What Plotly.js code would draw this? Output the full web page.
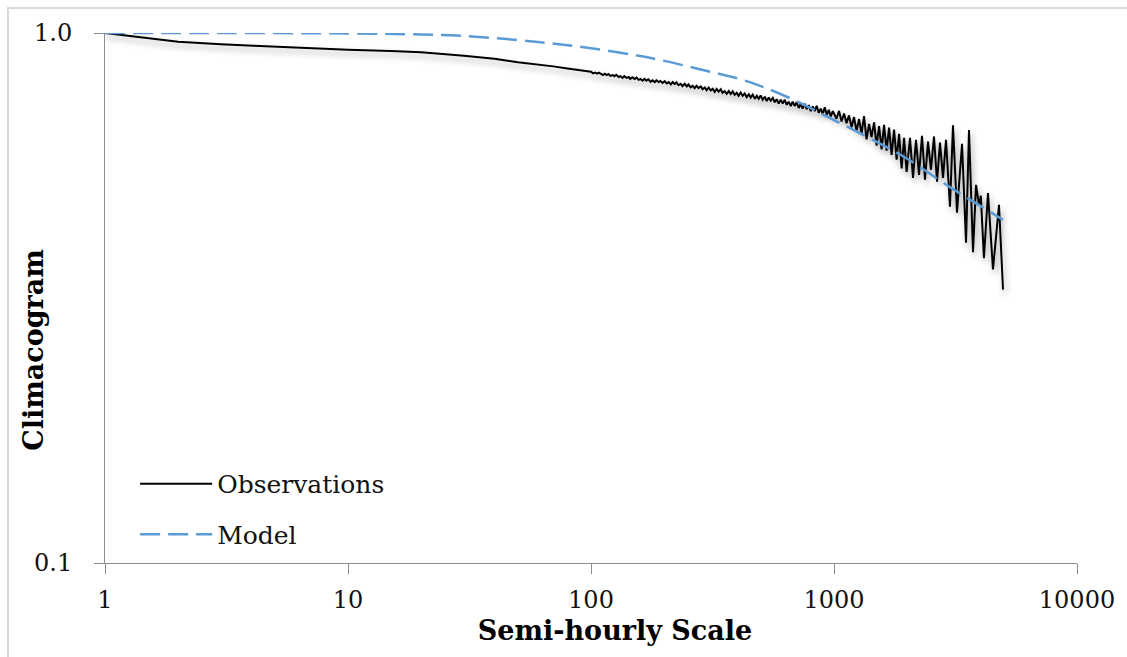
<!DOCTYPE html>
<html>
<head>
<meta charset="utf-8">
<script src="https://cdn.plot.ly/plotly-3.0.1.min.js"></script>
<style>
  html, body { margin: 0; padding: 0; background: #ffffff; overflow: hidden; }
  #frame { position: absolute; left: 7px; top: 7px; width: 1300px; height: 800px;
           border: 2px solid #d9d9d9; box-sizing: border-box; }
  #chart { position: absolute; left: 0; top: 0; width: 1127px; height: 657px; }
  .scatterlayer .trace:first-child path.js-line { filter: drop-shadow(2px 4px 3px rgba(0,0,0,0.35)); }
  .xtitle { translate: 24px 0px; }
  .ytitle { translate: 32px 52px; }
</style>
</head>
<body>
<div id="frame"></div>
<div id="chart"></div>
<script>
// Observations (empirical climacogram)
const obsScale = [1, 1.5, 2, 3, 4, 5, 7, 10, 15, 20, 30, 40, 50, 60, 70, 80, 90,
  100, 102, 104, 106, 108, 110, 112, 114, 116, 118, 120, 123, 125, 127, 130, 132, 135, 137, 140,
  143, 145, 148, 151, 154, 157, 160, 163, 166, 169, 172, 176, 179, 183, 186, 190, 193, 197,
  201, 205, 209, 213, 217, 221, 225, 229, 234, 238, 243, 248, 252, 257, 262, 267, 272, 277,
  283, 288, 294, 299, 305, 311, 317, 323, 329, 335, 342, 348, 355, 362, 369, 376, 383, 390, 398,
  405, 413, 421, 429, 437, 446, 454, 463, 472, 481, 490, 499, 509, 519, 529, 539, 549, 560, 570,
  581, 592, 604, 615, 627, 639, 651, 664, 676, 689, 702, 716, 729, 743, 758, 772, 787, 802, 818,
  833, 849, 865, 882, 899, 916, 934, 952, 970, 989,
  1024, 1049, 1074, 1100, 1126, 1153, 1181, 1209, 1238, 1268, 1298, 1329, 1361, 1394,
  1427, 1462, 1497, 1533, 1570, 1607, 1646, 1685, 1726, 1767, 1810, 1853, 1898, 1943, 1990,
  2055, 2114, 2175, 2238, 2302, 2369, 2437, 2507, 2579, 2654, 2730, 2809, 2890,
  3001, 3088, 3208, 3364, 3494, 3594, 3733, 3841, 3952, 4020, 4140, 4302, 4511, 4642, 4775, 4961];
const obsValue = [1.000, 0.979, 0.963, 0.952, 0.946, 0.942, 0.936, 0.930, 0.925, 0.920, 0.906, 0.894, 0.881, 0.873, 0.865, 0.857, 0.850,
  0.845, 0.839, 0.842, 0.838, 0.842, 0.837, 0.833, 0.838, 0.833, 0.837, 0.830, 0.833, 0.829, 0.834, 0.826, 0.829, 0.823, 0.829, 0.823,
  0.826, 0.819, 0.825, 0.819, 0.824, 0.816, 0.819, 0.813, 0.819, 0.813, 0.818, 0.809, 0.814, 0.808, 0.814, 0.808, 0.812, 0.805,
  0.811, 0.803, 0.808, 0.800, 0.808, 0.801, 0.807, 0.797, 0.802, 0.794, 0.802, 0.793, 0.800, 0.790, 0.795, 0.787, 0.795, 0.787,
  0.793, 0.783, 0.789, 0.780, 0.789, 0.779, 0.785, 0.774, 0.784, 0.775, 0.783, 0.771, 0.777, 0.768, 0.777, 0.767, 0.776, 0.764, 0.771,
  0.761, 0.772, 0.761, 0.769, 0.757, 0.766, 0.755, 0.765, 0.751, 0.761, 0.751, 0.762, 0.748, 0.758, 0.744, 0.756, 0.745, 0.754, 0.740,
  0.750, 0.736, 0.748, 0.736, 0.748, 0.732, 0.742, 0.728, 0.742, 0.728, 0.740, 0.722, 0.735, 0.720, 0.735, 0.718, 0.731, 0.712, 0.727,
  0.712, 0.729, 0.707, 0.720, 0.703, 0.724, 0.701, 0.716, 0.696, 0.712,
  0.689, 0.713, 0.681, 0.705, 0.676, 0.699, 0.664, 0.694, 0.653, 0.688, 0.646, 0.697, 0.630, 0.674,
  0.636, 0.678, 0.613, 0.667, 0.603, 0.671, 0.600, 0.663, 0.589, 0.657, 0.577, 0.645, 0.555, 0.634, 0.547,
  0.634, 0.533, 0.629, 0.540, 0.640, 0.529, 0.624, 0.552, 0.638, 0.524, 0.621, 0.533, 0.629,
  0.470, 0.670, 0.458, 0.618, 0.402, 0.656, 0.386, 0.517, 0.474, 0.493, 0.376, 0.499, 0.358, 0.412, 0.474, 0.328];

// Model (theoretical climacogram)
const modelScale = [1, 3, 10, 20, 30, 50, 70, 100, 150, 200, 300, 400, 500, 700, 1000, 1500, 2000, 3000, 4000, 4961];
const modelValue = [1.000, 1.000, 0.998, 0.9935, 0.987, 0.970, 0.955, 0.936, 0.909, 0.886, 0.848, 0.821, 0.794, 0.744, 0.685, 0.623, 0.579, 0.512, 0.472, 0.444];

// Axis ticks
const xTickVals = [1, 10, 100, 1000, 10000];
const xTickText = ['1', '10', '100', '1000', '10000'];
const yTickVals = [0.1, 1];
const yTickText = ['0.1', '1.0'];

const serif = 'DejaVu Serif';

const traces = [
  {
    x: obsScale, y: obsValue, name: 'Observations', type: 'scatter', mode: 'lines',
    legendgroup: 'obs', line: {color: '#000000', width: 2}
  },
  {
    x: modelScale, y: modelValue, name: 'Model', type: 'scatter', mode: 'lines',
    legendgroup: 'model', line: {color: '#5B9BD5', width: 2.5, dash: '20px,8px', shape: 'spline', smoothing: 1}
  }
];

const layout = {
  width: 1127, height: 657,
  margin: {l: 105, r: 50, t: 33, b: 94},
  paper_bgcolor: 'rgba(0,0,0,0)',
  plot_bgcolor: 'rgba(0,0,0,0)',
  font: {family: serif, color: '#111111', size: 24},
  showlegend: true,
  legend: {
    x: 0.031, y: 0.1925, xanchor: 'left', yanchor: 'top',
    bgcolor: 'rgba(0,0,0,0)',
    font: {family: serif, size: 25, color: '#111111'},
    itemwidth: 72,
    traceorder: 'grouped',
    tracegroupgap: 15
  },
  xaxis: {
    type: 'log', range: [0, 4],
    tickvals: xTickVals, ticktext: xTickText,
    showgrid: false, zeroline: false,
    showline: true, linecolor: '#8c8c8c', linewidth: 1,
    ticks: 'outside', ticklen: 10, tickcolor: '#8c8c8c', tickwidth: 1,
    tickfont: {family: serif, size: 24, color: '#111111'},
    ticklabelstandoff: 5,
    title: {text: 'Semi-hourly Scale', font: {family: serif, size: 27, color: '#000000', weight: 'bold'}, standoff: 8}
  },
  yaxis: {
    type: 'log', range: [-1, 0],
    tickvals: yTickVals, ticktext: yTickText,
    showgrid: false, zeroline: false,
    showline: true, linecolor: '#8c8c8c', linewidth: 1,
    ticks: 'outside', ticklen: 10, tickcolor: '#8c8c8c', tickwidth: 1,
    tickfont: {family: serif, size: 24, color: '#111111'},
    ticklabelstandoff: 17,
    title: {text: 'Climacogram', font: {family: serif, size: 27, color: '#000000', weight: 'bold'}, standoff: 14}
  }
};

Plotly.newPlot('chart', traces, layout, {displayModeBar: false, staticPlot: true});
</script>
</body>
</html>
